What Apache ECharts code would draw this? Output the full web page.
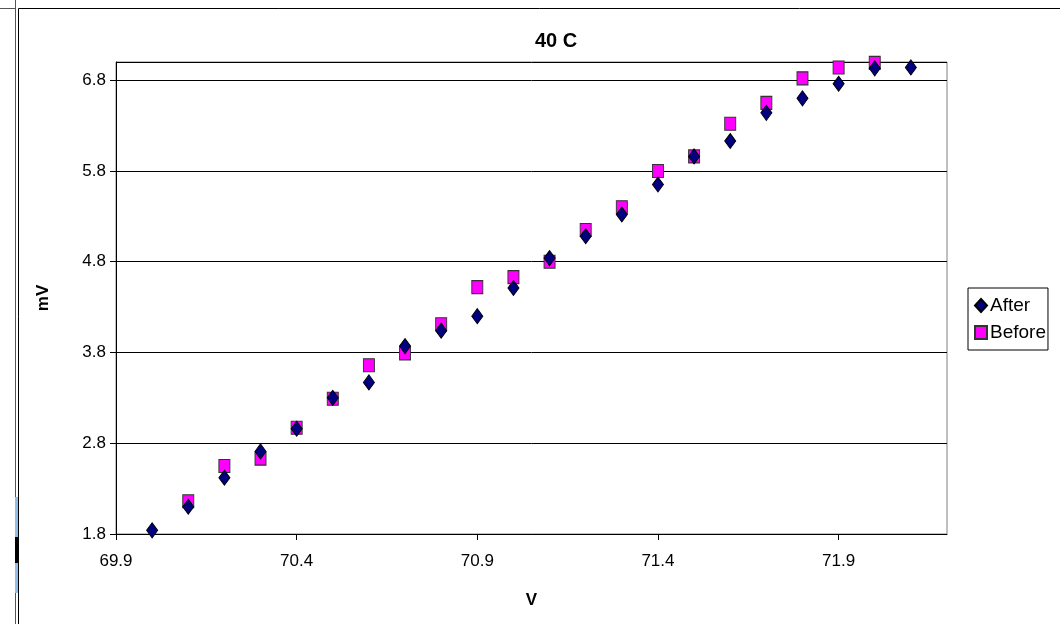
<!DOCTYPE html>
<html>
<head>
<meta charset="utf-8">
<script src="https://cdn.jsdelivr.net/npm/echarts@6/dist/echarts.min.js"></script>
<style>
html,body{margin:0;padding:0;background:#fff;}
#chart{width:1060px;height:624px;}
</style>
</head>
<body>
<div id="chart"></div>
<script>
const afterX = [70.0,70.1,70.2,70.3,70.4,70.5,70.6,70.7,70.8,70.9,71.0,71.1,71.2,71.3,71.4,71.5,71.6,71.7,71.8,71.9,72.0,72.1];
const afterY = [1.84,2.10,2.42,2.71,2.96,3.30,3.47,3.87,4.04,4.20,4.51,4.84,5.08,5.32,5.65,5.96,6.13,6.44,6.60,6.76,6.93,6.94];
const beforeX = [70.1,70.2,70.3,70.4,70.5,70.6,70.7,70.8,70.9,71.0,71.1,71.2,71.3,71.4,71.5,71.6,71.7,71.8,71.9,72.0];
const beforeY = [2.16,2.55,2.63,2.97,3.29,3.66,3.79,4.11,4.52,4.63,4.80,5.15,5.40,5.80,5.96,6.32,6.55,6.82,6.94,6.99];
const titleText = '40 C';
const xTitle = 'V';
const yTitle = 'mV';

const chart = echarts.init(document.getElementById('chart'));
const font = '"Liberation Sans", Arial, sans-serif';
chart.setOption({
  animation: false,
  backgroundColor: '#ffffff',
  textStyle: {fontFamily: font},
  title: {
    text: titleText, left: 551, top: 26, textAlign: 'center',
    textStyle: {fontFamily: font, fontSize: 20, fontWeight: 'bold', color: '#000'}
  },
  grid: {left: 116, top: 62, right: 113, bottom: 90, show: true, borderColor: '#808080', borderWidth: 1, backgroundColor: '#fff'},
  legend: {
    orient: 'vertical', left: 968, top: 288,
    data: ['After', 'Before'],
    borderColor: '#000', borderWidth: 1, padding: [8, 2, 8, 6],
    itemWidth: 12, itemHeight: 13, itemGap: 8,
    textStyle: {fontFamily: font, fontSize: 19, color: '#000', padding: [0, 0, 0, -2]}
  },
  xAxis: {
    type: 'value', min: 69.9, max: 72.2, interval: 0.5,
    name: xTitle, nameLocation: 'middle', nameGap: 58,
    nameTextStyle: {fontFamily: font, fontSize: 17, fontWeight: 'bold', color: '#000'},
    axisLine: {show: true, lineStyle: {color: '#000', width: 1}},
    axisTick: {show: true, length: 6, inside: false, lineStyle: {color: '#000'}},
    axisLabel: {showMaxLabel: false, fontSize: 17, color: '#000', margin: 19,
      formatter: v => v.toFixed(1)},
    splitLine: {show: false}
  },
  yAxis: {
    type: 'value', min: 1.8, max: 7.0, interval: 1,
    name: yTitle, nameLocation: 'middle', nameGap: 64, nameRotate: 90,
    nameTextStyle: {fontFamily: font, fontSize: 17, fontWeight: 'bold', color: '#000'},
    axisLine: {show: true, lineStyle: {color: '#000', width: 1}},
    axisTick: {show: true, length: 6, lineStyle: {color: '#000'}},
    axisLabel: {showMaxLabel: false, fontSize: 17, color: '#000', margin: 10,
      formatter: v => v.toFixed(1)},
    splitLine: {show: true, lineStyle: {color: '#000', width: 1}}
  },
  series: [
    {
      name: 'Before', type: 'scatter', symbol: 'rect', symbolSize: [11, 13],
      itemStyle: {color: '#ff00ff', borderColor: '#333', borderWidth: 1, opacity: 1},
      data: beforeX.map((x, i) => [x, beforeY[i]]), z: 2
    },
    {
      name: 'After', type: 'scatter', symbol: 'diamond', symbolSize: [11, 15],
      itemStyle: {color: '#000080', borderColor: '#000', borderWidth: 1, opacity: 1},
      data: afterX.map((x, i) => [x, afterY[i]]), z: 3
    }
  ],
  graphic: [
    {type: 'line', shape: {x1: 18.5, y1: 8.5, x2: 1060, y2: 8.5}, style: {stroke: '#000', lineWidth: 1}},
    {type: 'line', shape: {x1: 18.5, y1: 8.5, x2: 18.5, y2: 624}, style: {stroke: '#000', lineWidth: 1}},
    {type: 'line', shape: {x1: 15.5, y1: 0, x2: 15.5, y2: 624}, style: {stroke: '#555', lineWidth: 1}},
    {type: 'line', shape: {x1: 0, y1: 8.5, x2: 15, y2: 8.5}, style: {stroke: '#555', lineWidth: 1}},
    {type: 'rect', shape: {x: 15, y: 497, width: 3, height: 96}, style: {fill: '#8fbfe8'}},
    {type: 'rect', shape: {x: 15, y: 537, width: 3, height: 26}, style: {fill: '#000'}}
  ]
});
</script>
</body>
</html>
